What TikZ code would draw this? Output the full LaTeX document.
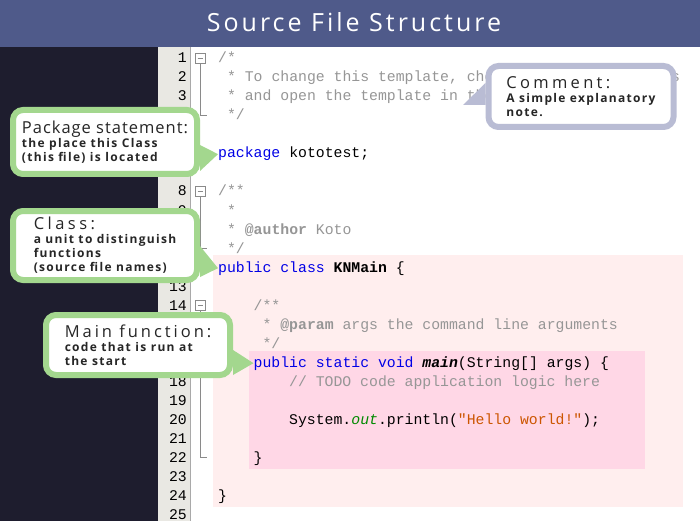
\documentclass[tikz,border=0pt]{standalone}
\usepackage{fontspec}
\usetikzlibrary{calc}
\newfontfamily\codefont{Liberation Mono}
\newfontfamily\calfont{Open Sans}
\definecolor{titlebar}{HTML}{4F5A8A}
\definecolor{panel}{HTML}{1E1D2E}
\definecolor{gutter}{HTML}{E9E8E3}
\definecolor{gutterline}{HTML}{A9A9A9}
\definecolor{classbg}{HTML}{FFEEEE}
\definecolor{methbg}{HTML}{FFD7E6}
\definecolor{kwblue}{HTML}{0000E6}
\definecolor{cmtgray}{HTML}{969696}
\definecolor{outgreen}{HTML}{008A00}
\definecolor{strorange}{HTML}{CC5500}
\definecolor{foldgray}{HTML}{8A8A8A}
\definecolor{calgreen}{HTML}{A3D78E}
\definecolor{calgray}{HTML}{B9BCD4}
\definecolor{calink}{HTML}{262626}
\newcommand{\kw}[1]{\textcolor{kwblue}{#1}}
\newcommand{\cmt}[1]{\textcolor{cmtgray}{#1}}
\newcommand{\calsub}{\calfont\bfseries\fontsize{12}{14}\selectfont\addfontfeatures{LetterSpace=11}}
\newcommand{\calhead}[2]{{\mdseries\fontsize{16.5}{14}\selectfont\addfontfeatures{LetterSpace=#1}#2}}
\tikzset{
  lnum/.style={anchor=base east,inner sep=0pt,font=\codefont\fontsize{14.8}{19}\selectfont},
  code/.style={anchor=base west,inner sep=0pt,font=\codefont\fontsize{14.8}{19}\selectfont},
  foldbox/.style={draw=foldgray,fill=white,line width=0.8pt,minimum size=10pt,inner sep=0pt,
    path picture={\draw[foldgray,line width=0.8pt] ([xshift=2.5pt]path picture bounding box.west) -- ([xshift=-2.5pt]path picture bounding box.east);}},
  foldline/.style={draw=foldgray,line width=0.8pt},
  callout/.style={line width=6pt,fill=white,rounded corners=10pt,align=left,inner sep=0pt,text=calink,font=\calsub},
}

\begin{document}
\begin{tikzpicture}[x=1pt,y=-1pt]
  \useasboundingbox (0,0) rectangle (700,521);
  % editor background
  \fill[white] (0,0) rectangle (700,521);
  \fill[panel] (0,47) rectangle (158,521);
  \fill[gutter] (158,47) rectangle (190,521);
  \draw[gutterline] (190,47) -- (190,521);
  \fill[classbg] (213,255) rectangle (683,507);
  \fill[methbg] (249,351) rectangle (645,469);
  \fill[titlebar] (0,0) rectangle (700,47);
  \node[anchor=base,text=white,font=\calfont\fontsize{25}{30}\selectfont\addfontfeatures{LetterSpace=12}] (title) at (354,32) {Source File Structure};

  % line numbers
  \foreach \n in {1,...,25}{\node[lnum] (n\n) at (187,{44+19*\n}) {\n};}

  % folding marks
  \foreach \a/\b in {1/4,8/11,14/16,17/22}{
    \node[foldbox] (f\a) at (200,{39+19*\a}) {};
    \coordinate (e\a) at (207,{39+19*\b});
    \draw[foldline] (f\a.south) |- (e\a);}

  % source text
  \node[code] (c1) at (218,63) {\cmt{/*}};
  \node[code] (c2) at (226.9,82) {\cmt{* To change this template, choose Tools | Templates}};
  \node[code] (c3) at (226.9,101) {\cmt{* and open the template in the editor.}};
  \node[code] (c4) at (226.9,120) {\cmt{*/}};
  \node[code] (c6) at (218,158) {\kw{package} kototest;};
  \node[code] (c8) at (218,196) {\cmt{/**}};
  \node[code] (c9) at (226.9,215) {\cmt{*}};
  \node[code] (c10) at (226.9,234) {\cmt{* \textbf{@author} Koto}};
  \node[code] (c11) at (226.9,253) {\cmt{*/}};
  \node[code] (c12) at (218,272) {\kw{public class} \textbf{KNMain} \{};
  \node[code] (c14) at (253.5,310) {\cmt{/**}};
  \node[code] (c15) at (262.4,329) {\cmt{* \textbf{@param} args the command line arguments}};
  \node[code] (c16) at (262.4,348) {\cmt{*/}};
  \node[code] (c17) at (253.5,367) {\kw{public static void} \textbf{\textit{main}}(String[] args) \{};
  \node[code] (c18) at (289,386) {\cmt{// TODO code application logic here}};
  \node[code] (c20) at (289,424) {System.\textcolor{outgreen}{\textit{out}}.println(\textcolor{strorange}{"Hello world!"});};
  \node[code] (c22) at (253.5,462) {\}};
  \node[code] (c24) at (218,500) {\}};

  % callouts
  \node[callout,draw=calgray,minimum width=185,minimum height=61] (cmt) at (581,96.5)
    {\calhead{20}{Comment:}\\A simple explanatory\\note.};
  \coordinate (cmtip) at (463,105);
  \fill[calgray] ($(cmt.north west)+(0,20)$) -- (cmtip) -- ($(cmt.north west)+(0,42)$) -- cycle;

  \node[callout,draw=calgreen,minimum width=184,minimum height=64] (pkg) at (105,142)
    {\calhead{6}{Package statement:}\\the place this Class\\(this file) is located};
  \fill[calgreen] ($(pkg.south east)+(0,-32)$) -- (c6.west) -- ($(pkg.south east)+(0,-6)$) -- cycle;

  \node[callout,draw=calgreen,minimum width=184,minimum height=69] (cls) at (105,245.5)
    {\calhead{21}{Class:}\\a unit to distinguish\\functions\\(source file names)};
  \fill[calgreen] ($(cls.south east)+(0,-37)$) -- (c12.west) -- ($(cls.south east)+(0,-6)$) -- cycle;

  \node[callout,draw=calgreen,minimum width=184,minimum height=60] (mainf) at (138,345)
    {\calhead{18}{Main function:}\\code that is run at\\the start};
  \fill[calgreen] ($(mainf.south east)+(0,-28)$) -- (c17.west) -- ($(mainf.south east)+(0,-3)$) -- cycle;
\end{tikzpicture}
\end{document}
